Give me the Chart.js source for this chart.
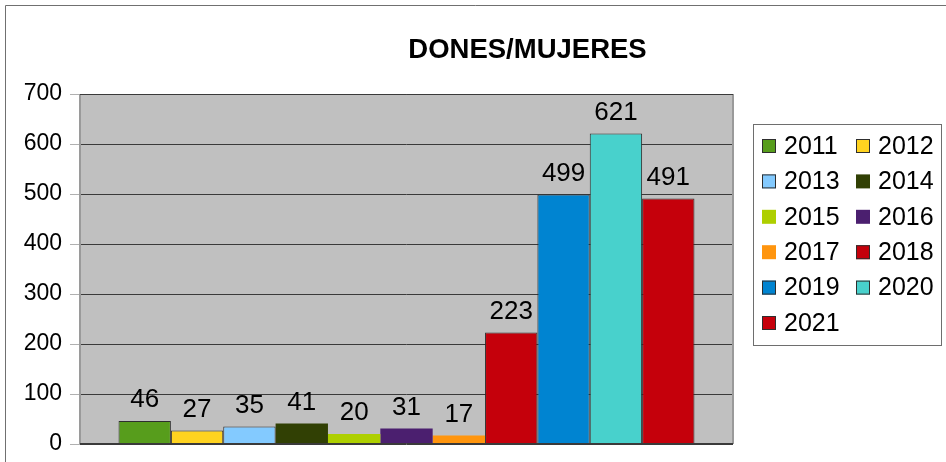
<!DOCTYPE html>
<html>
<head>
<meta charset="utf-8">
<script src="https://cdn.jsdelivr.net/npm/chart.js@4/dist/chart.umd.min.js"></script>
<style>
  html, body { margin: 0; padding: 0; background: #ffffff; }
  #wrap { position: relative; width: 946px; height: 462px; }
</style>
</head>
<body>
<div id="wrap"><canvas id="c" width="946" height="462"></canvas></div>
<script>
const chartTitle = 'DONES/MUJERES';
const years = ['2011','2012','2013','2014','2015','2016','2017','2018','2019','2020','2021'];
const values = [46, 27, 35, 41, 20, 31, 17, 223, 499, 621, 491];
const colors = ['#579d1c','#ffd320','#83caff','#314004','#aecf00','#4b1f6f','#ff950e','#c5000b','#0084d1','#48d1cc','#c5000b'];
const outlined = [true, true, true, false, false, false, false, true, true, true, true];
const yTicks = [0, 100, 200, 300, 400, 500, 600, 700];

const FONT = '"Liberation Sans", Arial, sans-serif';

const datasets = years.map((y, i) => ({
  label: y,
  data: [values[i]],
  backgroundColor: colors[i],
  borderColor: outlined[i] ? '#2e2e2e' : colors[i],
  borderWidth: outlined[i] ? 1 : 0,
  barPercentage: 1.0,
  categoryPercentage: 0.882
}));

const decor = {
  id: 'decor',
  beforeDraw(chart) {
    const ctx = chart.ctx, a = chart.chartArea;
    ctx.save();
    ctx.strokeStyle = '#707070';
    ctx.lineWidth = 1;
    ctx.beginPath();
    ctx.moveTo(5.5, 462); ctx.lineTo(5.5, 5.5); ctx.lineTo(946, 5.5);
    ctx.stroke();
    ctx.fillStyle = '#c0c0c0';
    ctx.fillRect(a.left, a.top, a.right - a.left, a.bottom - a.top);
    ctx.restore();
  },
  afterDatasetsDraw(chart) {
    const ctx = chart.ctx, a = chart.chartArea;
    ctx.save();
    ctx.strokeStyle = '#9a9a9a';
    ctx.lineWidth = 2;
    ctx.beginPath();
    ctx.moveTo(a.left, a.top); ctx.lineTo(a.left, a.bottom);
    ctx.moveTo(a.right, a.top); ctx.lineTo(a.right, a.bottom);
    ctx.stroke();
    ctx.strokeStyle = '#3a3a3a';
    ctx.lineWidth = 1;
    ctx.beginPath();
    ctx.moveTo(a.left, a.top + 0.5); ctx.lineTo(a.right, a.top + 0.5);
    ctx.moveTo(a.left, a.bottom - 0.5); ctx.lineTo(a.right, a.bottom - 0.5);
    ctx.stroke();
    // data labels
    ctx.fillStyle = '#000';
    ctx.font = '26px ' + FONT;
    ctx.textAlign = 'center';
    ctx.textBaseline = 'alphabetic';
    chart.data.datasets.forEach((ds, i) => {
      const bar = chart.getDatasetMeta(i).data[0];
      ctx.fillText(String(ds.data[0]), bar.x, bar.y - 14);
    });
    // title
    ctx.font = 'bold 27.5px ' + FONT;
    ctx.textBaseline = 'middle';
    ctx.fillText(chartTitle, 527.5, 50);
    // legend
    const lx = 753, ly = 124, lw = 188, lh = 221;
    ctx.strokeStyle = '#6e6e6e';
    ctx.lineWidth = 1;
    ctx.strokeRect(lx + 0.5, ly + 0.5, lw, lh);
    ctx.font = '25px ' + FONT;
    ctx.textAlign = 'left';
    chart.data.datasets.forEach((ds, i) => {
      const col = i % 2, row = Math.floor(i / 2);
      const sx = lx + 9 + col * 94;
      const cy = ly + 22 + row * 35.4;
      ctx.fillStyle = ds.backgroundColor;
      ctx.fillRect(sx, cy - 7, 14, 14);
      if (ds.borderWidth) {
        ctx.strokeStyle = '#2e2e2e';
        ctx.strokeRect(sx + 0.5, cy - 6.5, 13, 13);
      }
      ctx.fillStyle = '#000';
      ctx.fillText(ds.label, sx + 22, cy + 1);
    });
    ctx.restore();
  }
};

new Chart(document.getElementById('c'), {
  type: 'bar',
  data: { labels: [''], datasets },
  options: {
    responsive: false,
    animation: false,
    layout: { padding: { left: 0, top: 94, right: 213, bottom: 18 } },
    plugins: { legend: { display: false }, title: { display: false }, tooltip: { enabled: false } },
    scales: {
      x: { display: false },
      y: {
        min: 0, max: 700,
        afterBuildTicks(scale) { scale.ticks = yTicks.map(v => ({ value: v })); },
        afterFit(scale) { scale.width = 80; scale.paddingTop = 0; scale.paddingBottom = 0; },
        border: { display: false },
        grid: { color: '#3a3a3a', lineWidth: 1, tickLength: 10, tickColor: '#b0b0b0', drawTicks: true },
        ticks: { color: '#000', font: { family: FONT, size: 23 }, padding: 8 }
      }
    }
  },
  plugins: [decor]
});
</script>
</body>
</html>
